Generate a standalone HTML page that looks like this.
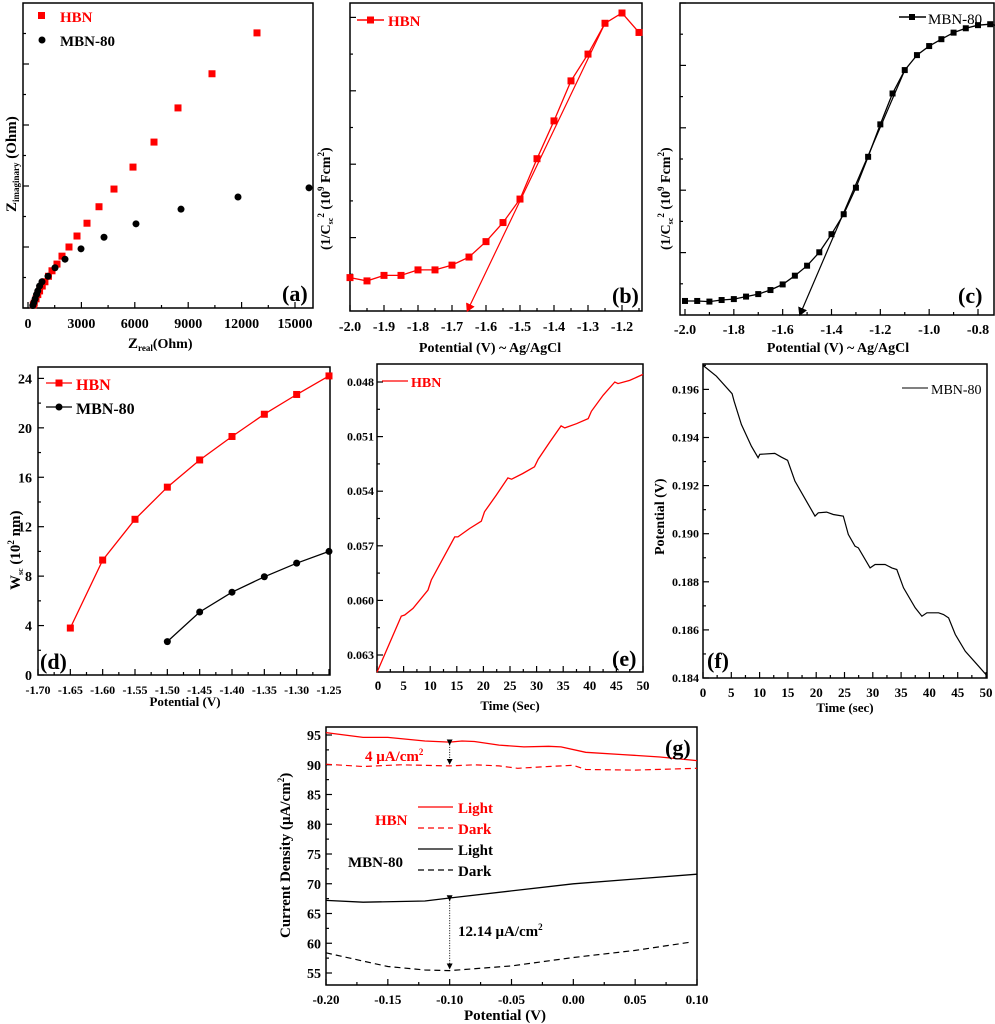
<!DOCTYPE html>
<html><head><meta charset="utf-8"><style>
html,body{margin:0;padding:0;background:#fff;}
svg{display:block;font-family:"Liberation Serif",serif;font-weight:bold;}
</style></head><body>
<svg id="fig" width="995" height="1024" viewBox="0 0 995 1024" xmlns="http://www.w3.org/2000/svg">
<defs>
<marker id="arrR" markerWidth="8" markerHeight="8" refX="6" refY="4" orient="auto"><path d="M0,0 L7,4 L0,8 z" fill="red"/></marker>
<marker id="arrK" markerWidth="8" markerHeight="8" refX="6" refY="4" orient="auto"><path d="M0,0 L7,4 L0,8 z" fill="#000"/></marker>
<marker id="arrG" markerWidth="6" markerHeight="6" refX="5" refY="3" orient="auto"><path d="M0,0 L6,3 L0,6 z" fill="#000"/></marker>
</defs>
</svg>
<script>
// ---------- DATA ----------
const aHbnX=[12865,10337,8427,7079,5899,4831,3989,3315,2753,2303,1910,1629,1348,1150,950,800,650,550,450,350,300];
const aHbnY=[4.51,3.84,3.28,2.72,2.31,1.95,1.66,1.39,1.18,1.0,0.85,0.72,0.61,0.52,0.43,0.36,0.28,0.22,0.15,0.08,0.05];
const aMbnX=[15787,11798,8596,6067,4270,2978,2079,1517,1124,787,650,550,480,400,330,270];
const aMbnY=[1.97,1.82,1.62,1.38,1.16,0.97,0.80,0.66,0.52,0.43,0.36,0.28,0.22,0.15,0.09,0.04];
const aXTicks=[0,3000,6000,9000,12000,15000];
const bX=[-2.0,-1.95,-1.9,-1.85,-1.8,-1.75,-1.7,-1.65,-1.6,-1.55,-1.5,-1.45,-1.4,-1.35,-1.3,-1.25,-1.2,-1.15];
const bY=[0.91,0.82,0.97,0.97,1.12,1.12,1.25,1.47,1.89,2.41,3.05,4.15,5.18,6.27,7.0,7.84,8.12,7.59];
const bFitX=[-1.25,-1.655];
const bFitY=[7.84,0];
const bXTicks=[-2.0,-1.9,-1.8,-1.7,-1.6,-1.5,-1.4,-1.3,-1.2];
const cX=[-2.0,-1.95,-1.9,-1.85,-1.8,-1.75,-1.7,-1.65,-1.6,-1.55,-1.5,-1.45,-1.4,-1.35,-1.3,-1.25,-1.2,-1.15,-1.1,-1.05,-1.0,-0.95,-0.9,-0.85,-0.8,-0.75,-0.7];
const cY=[0.45,0.45,0.43,0.48,0.51,0.59,0.67,0.80,0.98,1.26,1.58,2.01,2.59,3.23,4.08,5.07,6.11,7.10,7.85,8.33,8.62,8.84,9.05,9.19,9.29,9.32,9.24];
const cFitX=[-1.1,-1.53];
const cFitY=[7.85,0];
const cXTicks=[-2.0,-1.8,-1.6,-1.4,-1.2,-1.0,-0.8];
const dX=[-1.65,-1.6,-1.55,-1.5,-1.45,-1.4,-1.35,-1.3,-1.25];
const dHbn=[3.8,9.3,12.6,15.2,17.4,19.3,21.1,22.7,24.2];
const dMbnX=[-1.5,-1.45,-1.4,-1.35,-1.3,-1.25];
const dMbn=[2.7,5.1,6.7,7.95,9.05,10.0];
const dXTicks=[-1.70,-1.65,-1.60,-1.55,-1.50,-1.45,-1.40,-1.35,-1.30,-1.25];
const dYTicks=[0,4,8,12,16,20,24];
const eT=[0,4.57,5.2,6.77,9.59,10.2,14.6,15.2,17.4,19.6,20.2,22.4,24.6,25.3,27.4,29.6,30.3,32.5,34.6,35.3,37.5,39.7,40.3,42.5,44.7,45.3,47.5,50];
const eV=[0.06395,0.06086,0.0608,0.06044,0.05943,0.05888,0.05651,0.05651,0.05605,0.05565,0.05513,0.05422,0.05327,0.05334,0.05303,0.05266,0.05224,0.05129,0.05041,0.05052,0.05029,0.05001,0.04961,0.04873,0.048,0.04809,0.04791,0.04758];
const eYTicks=[0.048,0.051,0.054,0.057,0.060,0.063];
const eXTicks=[0,5,10,15,20,25,30,35,40,45,50];
const fT=[0,2.36,5.14,5.49,6.79,8.56,9.74,10.04,12.69,13.87,14.94,16.23,18.6,19.78,20.37,21.84,23.02,24.79,25.68,26.86,27.45,29.52,30.4,32.17,33.35,34.24,35.42,37.49,38.67,39.55,41.62,42.5,43.39,44.57,46.34,48.7,50];
const fV=[0.197,0.19655,0.19582,0.19551,0.19454,0.19364,0.19316,0.1933,0.19334,0.19318,0.19305,0.19219,0.19122,0.19073,0.19087,0.1909,0.1908,0.19073,0.18997,0.18948,0.18941,0.18858,0.18872,0.18872,0.18858,0.18851,0.18775,0.18692,0.18657,0.18671,0.18671,0.18664,0.1865,0.18581,0.18511,0.18449,0.18414];
const fYTicks=[0.184,0.186,0.188,0.190,0.192,0.194,0.196];
const gHLX=[-0.2,-0.17,-0.15,-0.12,-0.1,-0.09,-0.08,-0.06,-0.04,-0.02,-0.01,0.01,0.04,0.07,0.1];
const gHLY=[95.4,94.6,94.6,94.0,93.8,94.0,93.9,93.3,93.0,93.1,93.0,92.1,91.7,91.3,90.7];
const gHDX=[-0.2,-0.17,-0.14,-0.1,-0.08,-0.06,-0.045,-0.02,0.0,0.01,0.05,0.1];
const gHDY=[90.1,89.7,90.0,89.8,90.0,89.8,89.4,89.7,89.9,89.2,89.1,89.4];
const gMLX=[-0.2,-0.17,-0.12,-0.1,-0.05,0.0,0.05,0.1];
const gMLY=[67.2,66.9,67.1,67.6,68.8,70.0,70.8,71.6];
const gMDX=[-0.2,-0.17,-0.15,-0.12,-0.1,-0.05,0.0,0.05,0.095];
const gMDY=[58.4,57.0,56.1,55.5,55.4,56.2,57.6,58.8,60.2];
const gXTicks=[-0.20,-0.15,-0.10,-0.05,0.00,0.05,0.10];
const gYTicks=[55,60,65,70,75,80,85,90,95];

// ---------- HELPERS ----------
const NS="http://www.w3.org/2000/svg";
const svg=document.getElementById('fig');
function el(tag,attrs,parent){const e=document.createElementNS(NS,tag);for(const k in attrs)e.setAttribute(k,attrs[k]);(parent||svg).appendChild(e);return e;}
function lin(d0,d1,r0,r1){return v=>r0+(v-d0)/(d1-d0)*(r1-r0);}
function txt(x,y,s,size,opts,parent){opts=opts||{};const t=el('text',{x:x,y:y,'font-size':size,fill:opts.fill||'#000','text-anchor':opts.anchor||'start'},parent);if(opts.rot)t.setAttribute('transform','rotate(-90 '+x+' '+y+')');if(opts.weight)t.setAttribute('font-weight',opts.weight);t.innerHTML=s;return t;}
function box(x0,y0,x1,y1,parent){return el('rect',{x:x0,y:y0,width:x1-x0,height:y1-y0,fill:'none',stroke:'#000','stroke-width':1.5},parent);}
function tickX(x,yb,len,parent){el('line',{x1:x,y1:yb,x2:x,y2:yb-len,stroke:'#000','stroke-width':1.2},parent);}
function tickY(y,xl,len,parent){el('line',{x1:xl,y1:y,x2:xl+len,y2:y,stroke:'#000','stroke-width':1.2},parent);}
function poly(xs,ys,sx,sy,color,parent,dash,w){const p=xs.map((v,i)=>sx(v).toFixed(1)+','+sy(ys[i]).toFixed(1)).join(' ');const e=el('polyline',{points:p,fill:'none',stroke:color,'stroke-width':w||1.3},parent);if(dash)e.setAttribute('stroke-dasharray',dash);return e;}
function grp(name){const g=el('g',{});return g;}

// ---------- PANEL A ----------
(function(){
const g=grp('panel-a');
const sx=lin(0,15000,28,295), sy=lin(0,1,308,247);
box(23,3,313,308,g);
for(let v=0;v<=15000;v+=1500){tickX(sx(v),308,v%3000===0?6:3,g);}
for(let k=0;k<=9;k++){tickY(sy(k*0.5),23,k%2===0?6:3,g);}
aXTicks.forEach(v=>txt(sx(v),328,v,14,{anchor:'middle'},g));
aHbnX.forEach((v,i)=>{const r=el('rect',{x:sx(v)-3.5,y:sy(aHbnY[i])-3.5,width:7,height:7,fill:'red'},g);});
aMbnX.forEach((v,i)=>{const c=el('circle',{cx:sx(v),cy:sy(aMbnY[i]),r:3.5,fill:'#000'},g);});
el('rect',{x:38,y:12,width:7,height:7,fill:'red'},g);
txt(60,22,'HBN',15,{fill:'red'},g);
el('circle',{cx:42,cy:40,r:3.5,fill:'#000'},g);
txt(60,46,'MBN-80',15,{},g);
txt(282,301,'(a)',22,{},g);
txt(128,348,'Z<tspan font-size="9" dy="3">real</tspan><tspan dy="-3" font-size="14">(Ohm)</tspan>',15,{},g);
txt(16,212,'Z<tspan font-size="9" dy="3">imaginary</tspan><tspan dy="-3"> (Ohm)</tspan>',15,{rot:true},g);
})();

// ---------- PANEL B ----------
(function(){
const g=grp('panel-b');
const sx=lin(-2.0,-1.2,350,622), sy=lin(0,1,311,274.3);
box(350,3,642,311,g);
for(let k=0;k<=17;k++){tickX(sx(-2.0+k*0.05),311,k%2===0?6:3,g);}
for(let k=1;k<=8;k++){tickY(sy(k),350,k%2===0?6:3,g);}
bXTicks.forEach(v=>txt(sx(v),331,v.toFixed(1),14,{anchor:'middle'},g));
const fit=poly(bFitX,bFitY,sx,sy,'red',g,null,1.2);fit.setAttribute('marker-end','url(#arrR)');
poly(bX,bY,sx,sy,'red',g);
bX.forEach((v,i)=>el('rect',{x:sx(v)-3.5,y:sy(bY[i])-3.5,width:7,height:7,fill:'red'},g));
el('line',{x1:357,y1:20,x2:384,y2:20,stroke:'red','stroke-width':1.5},g);
el('rect',{x:367,y:16.5,width:7,height:7,fill:'red'},g);
txt(388,26,'HBN',15,{fill:'red'},g);
txt(612,303,'(b)',22,{},g);
txt(490,352,'Potential (V) ~ Ag/AgCl',14,{anchor:'middle'},g);
txt(330,250,'(1/C<tspan font-size="8" dy="3">sc</tspan><tspan dy="-9" font-size="9">2</tspan><tspan dy="6"> (10</tspan><tspan dy="-6" font-size="9">9</tspan><tspan dy="6"> Fcm</tspan><tspan dy="-6" font-size="9">2</tspan><tspan dy="6">)</tspan>',14,{rot:true},g);
})();

// ---------- PANEL C ----------
(function(){
const g=grp('panel-c');
const sx=lin(-2.0,-0.8,685,978), sy=lin(0,1,315,283.8);
box(680,3,994,315,g);
for(let k=0;k<=13;k++){tickX(sx(-2.0+k*0.1),315,k%2===0?6:3,g);}
for(let k=1;k<=10;k++){tickY(sy(k),680,k%2===0?6:3,g);}
cXTicks.forEach(v=>txt(sx(v),334,v.toFixed(1),14,{anchor:'middle'},g));
const fit=poly(cFitX,cFitY,sx,sy,'#000',g,null,1.2);fit.setAttribute('marker-end','url(#arrK)');
poly(cX,cY,sx,sy,'#000',g);
cX.forEach((v,i)=>el('rect',{x:sx(v)-3,y:sy(cY[i])-3,width:6,height:6,fill:'#000'},g));
el('line',{x1:899,y1:17,x2:926,y2:17,stroke:'#000','stroke-width':1.5},g);
el('rect',{x:909,y:14,width:6,height:6,fill:'#000'},g);
txt(928,24,'MBN-80',15,{weight:'normal'},g);
txt(958,303,'(c)',22,{},g);
txt(838,352,'Potential (V) ~ Ag/AgCl',14,{anchor:'middle'},g);
txt(670,250,'(1/C<tspan font-size="8" dy="3">sc</tspan><tspan dy="-9" font-size="9">2</tspan><tspan dy="6"> (10</tspan><tspan dy="-6" font-size="9">9</tspan><tspan dy="6"> Fcm</tspan><tspan dy="-6" font-size="9">2</tspan><tspan dy="6">)</tspan>',14,{rot:true},g);
})();

// ---------- PANEL D ----------
(function(){
const g=grp('panel-d');
const sx=lin(-1.70,-1.25,38,329), sy=lin(0,24,675,378.4);
box(38,367,330,675,g);
dXTicks.forEach((v,i)=>{tickX(sx(v),675,6,g);if(i<9)tickX(sx(v+0.025),675,3,g);txt(sx(v),694,v.toFixed(2),12,{anchor:'middle'},g);});
dYTicks.forEach(v=>{tickY(sy(v),38,6,g);if(v<24)tickY(sy(v+2),38,3,g);txt(32,sy(v)+5,v,14,{anchor:'end'},g);});
poly(dX,dHbn,sx,sy,'red',g);
dX.forEach((v,i)=>el('rect',{x:sx(v)-3.5,y:sy(dHbn[i])-3.5,width:7,height:7,fill:'red'},g));
poly(dMbnX,dMbn,sx,sy,'#000',g);
dMbnX.forEach((v,i)=>el('circle',{cx:sx(v),cy:sy(dMbn[i]),r:3.5,fill:'#000'},g));
el('line',{x1:46,y1:383,x2:72,y2:383,stroke:'red','stroke-width':1.3},g);
el('rect',{x:55.5,y:379.5,width:7,height:7,fill:'red'},g);
txt(76,390,'HBN',16,{fill:'red'},g);
el('line',{x1:46,y1:407,x2:72,y2:407,stroke:'#000','stroke-width':1.3},g);
el('circle',{cx:59,cy:407,r:3.5,fill:'#000'},g);
txt(76,414,'MBN-80',16,{},g);
txt(40,669,'(d)',22,{},g);
txt(185,706,'Potential (V)',13,{anchor:'middle'},g);
txt(20,590,'W<tspan font-size="8" dy="3">sc</tspan><tspan dy="-3"> (10</tspan><tspan dy="-6" font-size="9">2</tspan><tspan dy="6"> nm)</tspan>',15,{rot:true},g);
})();

// ---------- PANEL E ----------
(function(){
const g=grp('panel-e');
const sx=lin(0,50,377,643), sy=lin(0.048,0.063,382,655);
box(377,364,643,672,g);
eXTicks.forEach((v,i)=>{tickX(sx(v),672,6,g);if(v<50)tickX(sx(v+2.5),672,3,g);txt(sx(v)+(v===0?1:0),690,v,13,{anchor:'middle'},g);});
eYTicks.forEach(v=>{tickY(sy(v),377,6,g);tickY(sy(v+0.0015),377,3,g);txt(374,sy(v)+4,v.toFixed(3),12,{anchor:'end'},g);});
poly(eT,eV,sx,sy,'red',g,null,1.3);
el('line',{x1:382,y1:381,x2:408,y2:381,stroke:'red','stroke-width':1.3},g);
txt(411,387,'HBN',14,{fill:'red'},g);
txt(612,666,'(e)',22,{},g);
txt(510,710,'Time (Sec)',13,{anchor:'middle'},g);
})();

// ---------- PANEL F ----------
(function(){
const g=grp('panel-f');
const sx=lin(0,50,703,986), sy=lin(0.184,0.196,678,389.4);
box(703,364,987,678,g);
eXTicks.forEach(v=>{tickX(sx(v),678,6,g);if(v<50)tickX(sx(v+2.5),678,3,g);txt(sx(v),697,v,13,{anchor:'middle'},g);});
fYTicks.forEach(v=>{tickY(sy(v),703,6,g);tickY(sy(v+0.001),703,3,g);txt(699,sy(v)+4,v.toFixed(3),12,{anchor:'end'},g);});
poly(fT,fV,sx,sy,'#000',g,null,1.2);
el('line',{x1:902,y1:388,x2:928,y2:388,stroke:'#000','stroke-width':1},g);
txt(931,394,'MBN-80',14,{weight:'normal'},g);
txt(707,668,'(f)',22,{},g);
txt(845,712,'Time (sec)',13,{anchor:'middle'},g);
txt(664,555,'Potential (V)',14,{rot:true},g);
})();

// ---------- PANEL G ----------
(function(){
const g=grp('panel-g');
const sx=lin(-0.2,0.1,326,697), sy=lin(55,95,973,735);
box(326,727,697,985,g);
gXTicks.forEach(v=>{tickX(sx(v),985,6,g);if(v<0.1)tickX(sx(v+0.025),985,3,g);txt(sx(v),1004,v.toFixed(2),13,{anchor:'middle'},g);});
gYTicks.forEach(v=>{tickY(sy(v),326,6,g);if(v<95)tickY(sy(v+2.5),326,3,g);txt(321,sy(v)+5,v,14,{anchor:'end'},g);});
poly(gHLX,gHLY,sx,sy,'red',g,null,1.3);
poly(gHDX,gHDY,sx,sy,'red',g,'6,4',1.2);
poly(gMLX,gMLY,sx,sy,'#000',g,null,1.3);
poly(gMDX,gMDY,sx,sy,'#000',g,'6,4',1.2);
const a1=el('line',{x1:sx(-0.1),y1:sy(93.6)+1,x2:sx(-0.1),y2:sy(90.0)-1,stroke:'#000','stroke-width':1,'stroke-dasharray':'1,1.5'},g);
a1.setAttribute('marker-end','url(#arrG)');a1.setAttribute('marker-start','url(#arrG)');
const a2=el('line',{x1:sx(-0.1),y1:sy(67.4)+1,x2:sx(-0.1),y2:sy(55.6)-1,stroke:'#000','stroke-width':1,'stroke-dasharray':'1,1.5'},g);
a2.setAttribute('marker-end','url(#arrG)');a2.setAttribute('marker-start','url(#arrG)');
txt(365,761,'4 μA/cm<tspan dy="-6" font-size="9">2</tspan>',15,{fill:'red'},g);
txt(458,936,'12.14 μA/cm<tspan dy="-6" font-size="9">2</tspan>',15,{},g);
txt(375,825,'HBN',15,{fill:'red'},g);
el('line',{x1:418,y1:807,x2:453,y2:807,stroke:'red','stroke-width':1.3},g);
el('line',{x1:418,y1:828,x2:453,y2:828,stroke:'red','stroke-width':1.2,'stroke-dasharray':'6,4'},g);
txt(458,813,'Light',15,{fill:'red'},g);
txt(458,834,'Dark',15,{fill:'red'},g);
txt(348,867,'MBN-80',15,{},g);
el('line',{x1:418,y1:849,x2:453,y2:849,stroke:'#000','stroke-width':1.3},g);
el('line',{x1:418,y1:870,x2:453,y2:870,stroke:'#000','stroke-width':1.2,'stroke-dasharray':'6,4'},g);
txt(458,855,'Light',15,{},g);
txt(458,876,'Dark',15,{},g);
txt(665,755,'(g)',22,{},g);
txt(505,1020,'Potential (V)',15,{anchor:'middle'},g);
txt(290,938,'Current Density (μA/cm<tspan dy="-6" font-size="9">2</tspan><tspan dy="6">)</tspan>',15,{rot:true},g);
})();
</script>
</body></html>
